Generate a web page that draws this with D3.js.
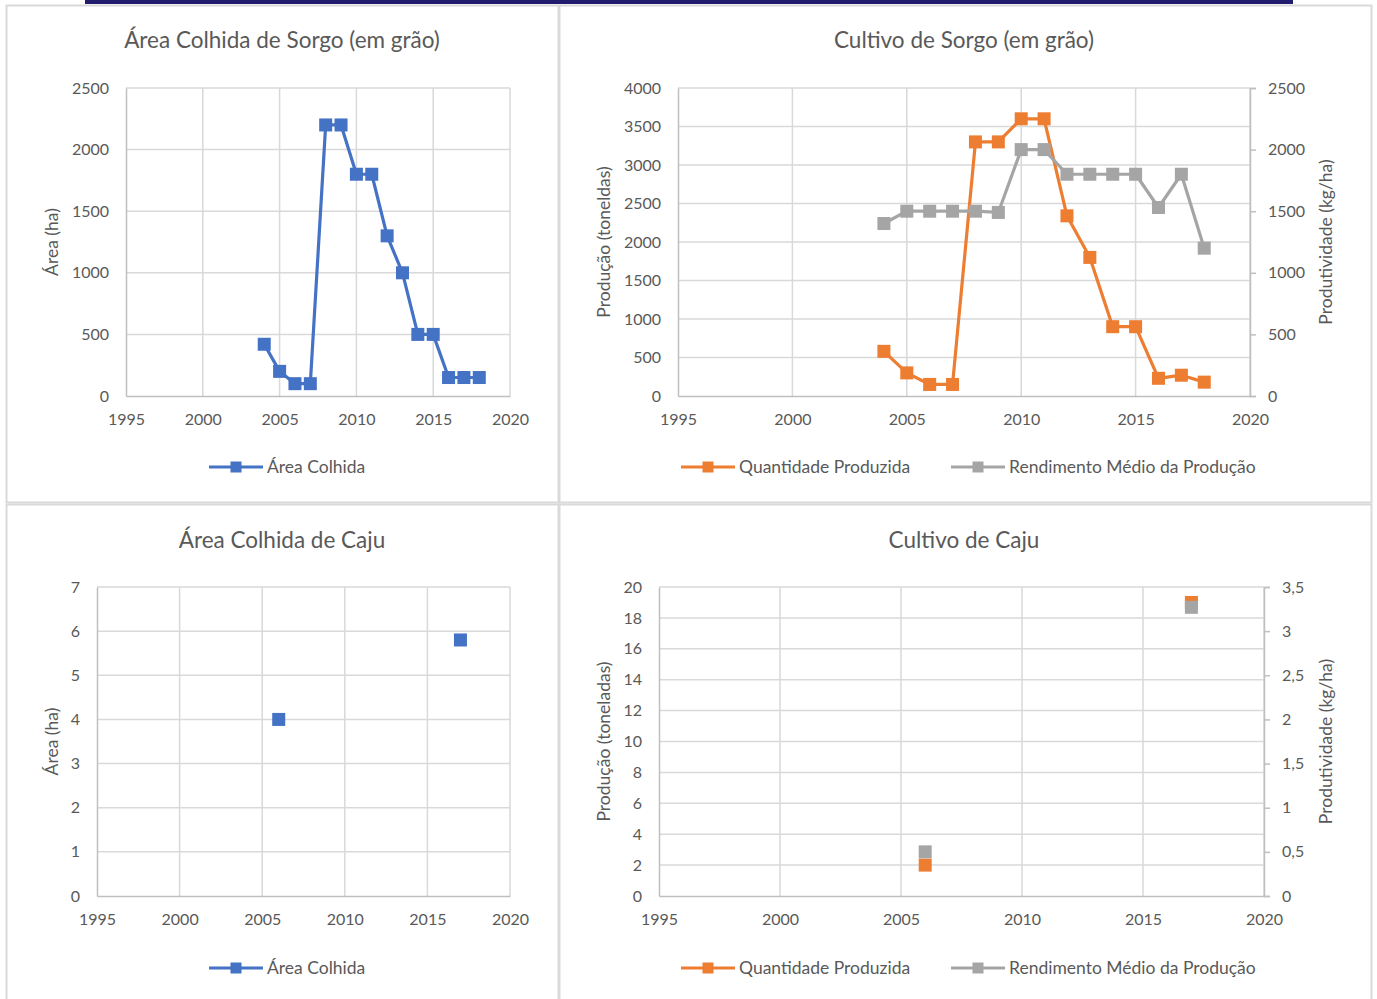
<!DOCTYPE html>
<html>
<head>
<meta charset="utf-8">
<script src="https://cdn.jsdelivr.net/npm/d3@7"></script>
<style>
  html, body { margin: 0; padding: 0; background: #ffffff; }
  svg { display: block; }
  text { font-family: Lato, "Open Sans", sans-serif; fill: #595959; }
</style>
</head>
<body>
<svg id="chart" width="1377" height="999"></svg>
<script>
// ---- Sorgo (em grão) ----
const sorgoYears       = [2004, 2005, 2006, 2007, 2008, 2009, 2010, 2011, 2012, 2013, 2014, 2015, 2016, 2017, 2018];
const sorgoArea        = [420, 200, 100, 100, 2200, 2200, 1800, 1800, 1300, 1000, 500, 500, 150, 150, 150];
const sorgoProducao    = [580, 300, 150, 150, 3300, 3300, 3600, 3600, 2340, 1800, 900, 900, 230, 270, 180];
const sorgoRendimento  = [1400, 1500, 1500, 1500, 1500, 1490, 2000, 2000, 1800, 1800, 1800, 1800, 1530, 1800, 1200];

// ---- Caju ----
const cajuYears        = [2006, 2017];
const cajuArea         = [4, 5.8];
const cajuProducao     = [2, 19];
const cajuRendimento   = [0.5, 3.27];

// ---- Axis ticks ----
const yearTicks        = [1995, 2000, 2005, 2010, 2015, 2020];
const sorgoAreaTicks   = [0, 500, 1000, 1500, 2000, 2500];
const sorgoProdTicks   = [0, 500, 1000, 1500, 2000, 2500, 3000, 3500, 4000];
const sorgoRendTicks   = [0, 500, 1000, 1500, 2000, 2500];
const cajuAreaTicks    = [0, 1, 2, 3, 4, 5, 6, 7];
const cajuProdTicks    = [0, 2, 4, 6, 8, 10, 12, 14, 16, 18, 20];
const cajuRendTicks    = [0, 0.5, 1, 1.5, 2, 2.5, 3, 3.5];

const BLUE = "#4472c4", ORANGE = "#ed7d31", GRAY = "#a5a5a5";
const GRID = "#d9d9d9", AXIS = "#bfbfbf";

const svg = d3.select("#chart");

// top accent bar
svg.append("rect").attr("x", 85).attr("y", 0).attr("width", 1208).attr("height", 4).attr("fill", "#211c6e");

// panel frames
const frames = [[6, 5, 552, 497], [559, 5, 812, 497], [6, 504, 552, 500], [559, 504, 812, 500]];
frames.forEach(f => svg.append("rect").attr("x", f[0] + 0.5).attr("y", f[1] + 0.5)
  .attr("width", f[2]).attr("height", f[3]).attr("fill", "none").attr("stroke", "#d9d9d9").attr("stroke-width", 2));

const commaFmt = v => String(v).replace(".", ",");
const TICK_FONT = "16px";
const TITLE_FONT = "17.5px";

function styleAxis(a) {
  a.select(".domain").attr("stroke", AXIS).attr("stroke-width", 1.5);
  a.selectAll(".tick line").attr("stroke", AXIS).attr("stroke-width", 1.5);
  a.selectAll("text").style("font-size", TICK_FONT).attr("fill", "#595959").style("font-family", "Lato, sans-serif");
}

function drawChart(cfg) {
  const g = svg.append("g");
  const x = d3.scaleLinear().domain([1995, 2020]).range([cfg.x0, cfg.x1]);
  const yL = d3.scaleLinear().domain([0, cfg.leftTicks[cfg.leftTicks.length - 1]]).range([cfg.yb, cfg.yt]);
  const yR = cfg.rightTicks ? d3.scaleLinear().domain([0, cfg.rightTicks[cfg.rightTicks.length - 1]]).range([cfg.yb, cfg.yt]) : null;

  // title
  g.append("text").attr("x", cfg.titleX).attr("y", cfg.titleY).attr("text-anchor", "middle")
    .style("font-size", "22.5px").text(cfg.title);

  // horizontal gridlines
  g.append("g").selectAll("line").data(cfg.leftTicks.slice(1)).join("line")
    .attr("x1", cfg.x0).attr("x2", cfg.x1).attr("y1", d => yL(d)).attr("y2", d => yL(d))
    .attr("stroke", GRID).attr("stroke-width", 1.5);
  // vertical gridlines
  g.append("g").selectAll("line").data(yearTicks.slice(1)).join("line")
    .attr("x1", d => x(d)).attr("x2", d => x(d)).attr("y1", cfg.yt).attr("y2", cfg.yb)
    .attr("stroke", GRID).attr("stroke-width", 1.5);

  // axes
  styleAxis(g.append("g").attr("transform", `translate(0,${cfg.yb})`)
    .call(d3.axisBottom(x).tickValues(yearTicks).tickSize(0).tickPadding(18).tickFormat(d3.format("d"))));
  styleAxis(g.append("g").attr("transform", `translate(${cfg.x0},0)`)
    .call(d3.axisLeft(yL).tickValues(cfg.leftTicks).tickSize(0).tickPadding(17).tickFormat(cfg.fmt || (d => d))));
  if (yR) {
    styleAxis(g.append("g").attr("transform", `translate(${cfg.x1},0)`)
      .call(d3.axisRight(yR).tickValues(cfg.rightTicks).tickSize(6).tickSizeOuter(6).tickPadding(12).tickFormat(cfg.fmtR || (d => d))));
    g.append("text").attr("transform", `translate(${cfg.rightTitleX},${(cfg.yt + cfg.yb) / 2}) rotate(-90)`)
      .attr("text-anchor", "middle").style("font-size", TITLE_FONT).text(cfg.rightTitle);
  }
  g.append("text").attr("transform", `translate(${cfg.leftTitleX},${(cfg.yt + cfg.yb) / 2}) rotate(-90)`)
    .attr("text-anchor", "middle").style("font-size", TITLE_FONT).text(cfg.leftTitle);

  // series (secondary-axis series drawn last, on top)
  cfg.series.forEach(s => {
    const y = s.axis === "right" ? yR : yL;
    const pts = s.years.map((yr, i) => ({ yr, v: s.values[i] }));
    if (s.line) {
      g.append("path").datum(pts)
        .attr("d", d3.line().x(d => x(d.yr)).y(d => y(d.v)))
        .attr("fill", "none").attr("stroke", s.color).attr("stroke-width", 3.2).attr("stroke-linejoin", "round");
    }
    g.append("g").selectAll("rect").data(pts).join("rect")
      .attr("x", d => x(d.yr) - 6.5).attr("y", d => y(d.v) - 6.5)
      .attr("width", 13).attr("height", 13).attr("fill", s.color);
  });

  // legend
  cfg.legend.forEach(l => {
    g.append("line").attr("x1", l.x).attr("x2", l.x + 54).attr("y1", cfg.legendY).attr("y2", cfg.legendY)
      .attr("stroke", l.color).attr("stroke-width", 3.2);
    g.append("rect").attr("x", l.x + 27 - 5.5).attr("y", cfg.legendY - 5.5).attr("width", 11).attr("height", 11).attr("fill", l.color);
    g.append("text").attr("x", l.x + 58).attr("y", cfg.legendY + 6).style("font-size", "17.5px").text(l.label);
  });
}

drawChart({
  title: "Área Colhida de Sorgo (em grão)", titleX: 282, titleY: 48,
  x0: 126, x1: 510, yt: 88, yb: 396,
  leftTicks: sorgoAreaTicks, leftTitle: "Área (ha)", leftTitleX: 58,
  series: [{ years: sorgoYears, values: sorgoArea, color: BLUE, line: true }],
  legendY: 467, legend: [{ x: 209, color: BLUE, label: "Área Colhida" }]
});

drawChart({
  title: "Cultivo de Sorgo (em grão)", titleX: 964, titleY: 48,
  x0: 678, x1: 1250, yt: 88, yb: 396,
  leftTicks: sorgoProdTicks, leftTitle: "Produção (toneldas)", leftTitleX: 610,
  rightTicks: sorgoRendTicks, rightTitle: "Produtividade (kg/ha)", rightTitleX: 1332,
  series: [
    { years: sorgoYears, values: sorgoProducao, color: ORANGE, line: true },
    { years: sorgoYears, values: sorgoRendimento, color: GRAY, line: true, axis: "right" }
  ],
  legendY: 467, legend: [
    { x: 681, color: ORANGE, label: "Quantidade Produzida" },
    { x: 951, color: GRAY, label: "Rendimento Médio da Produção" }
  ]
});

drawChart({
  title: "Área Colhida de Caju", titleX: 282, titleY: 548,
  x0: 97, x1: 510, yt: 587, yb: 896,
  leftTicks: cajuAreaTicks, leftTitle: "Área (ha)", leftTitleX: 58,
  series: [{ years: cajuYears, values: cajuArea, color: BLUE, line: false }],
  legendY: 968, legend: [{ x: 209, color: BLUE, label: "Área Colhida" }]
});

drawChart({
  title: "Cultivo de Caju", titleX: 964, titleY: 548,
  x0: 659, x1: 1264, yt: 587, yb: 896,
  leftTicks: cajuProdTicks, leftTitle: "Produção (toneladas)", leftTitleX: 610,
  rightTicks: cajuRendTicks, rightTitle: "Produtividade (kg/ha)", rightTitleX: 1332, fmtR: commaFmt,
  series: [
    { years: cajuYears, values: cajuProducao, color: ORANGE, line: false },
    { years: cajuYears, values: cajuRendimento, color: GRAY, line: false, axis: "right" }
  ],
  legendY: 968, legend: [
    { x: 681, color: ORANGE, label: "Quantidade Produzida" },
    { x: 951, color: GRAY, label: "Rendimento Médio da Produção" }
  ]
});
</script>
</body>
</html>
